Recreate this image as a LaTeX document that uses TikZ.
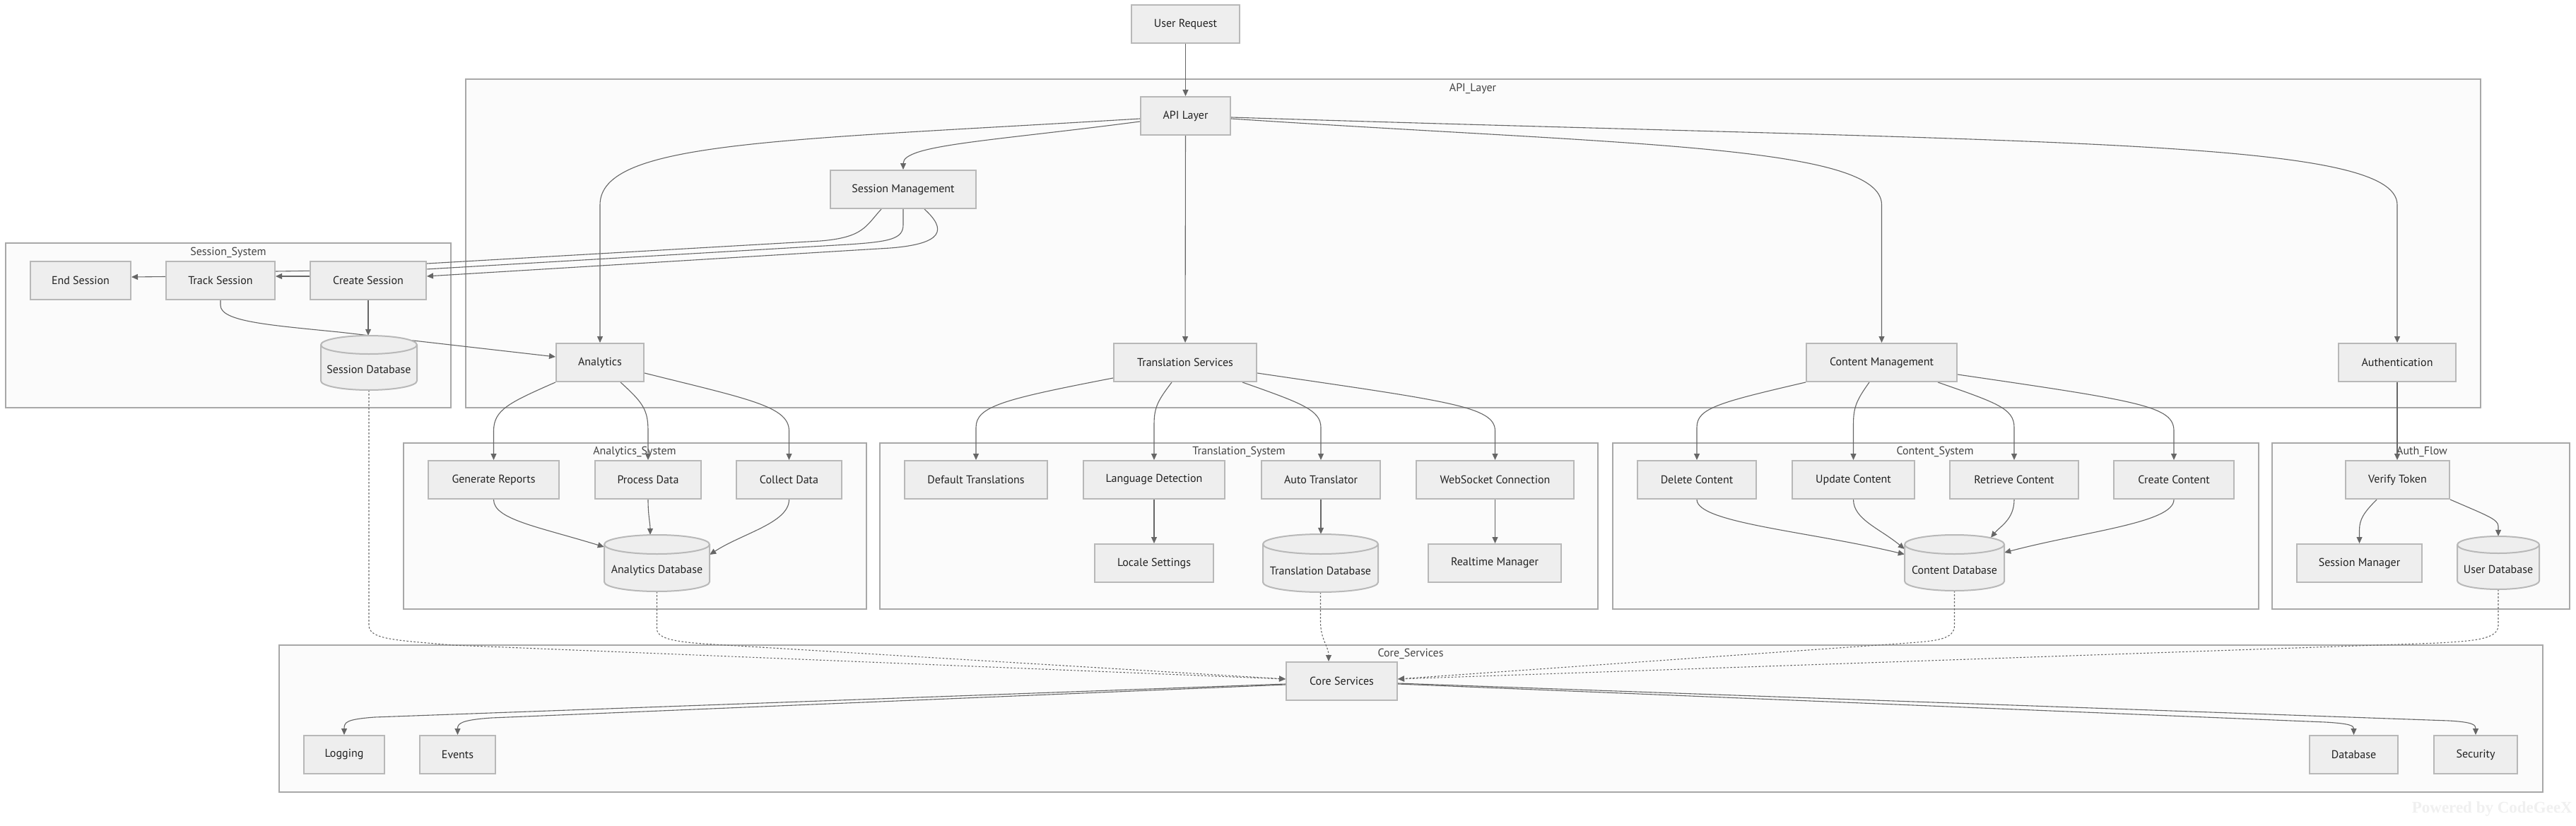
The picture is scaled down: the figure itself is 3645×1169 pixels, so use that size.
\documentclass[tikz,border=0pt]{standalone}
\usepackage{fontspec}
\setmainfont{PT Sans}
\newfontfamily\wmfont{Liberation Serif}
\usetikzlibrary{arrows.meta}
\definecolor{nodefill}{HTML}{EEEEEE}
\definecolor{nodeborder}{HTML}{B8B8B8}
\definecolor{clusterfill}{HTML}{FBFBFB}
\definecolor{clusterborder}{HTML}{A8A8A8}
\definecolor{edgecol}{HTML}{666666}
\definecolor{textcol}{HTML}{222222}
\definecolor{clustertext}{HTML}{444444}
\definecolor{wmark}{HTML}{F0F0F0}
\pgfdeclarelayer{bg}
\pgfdeclarelayer{edges}
\pgfsetlayers{bg,edges,main}
\tikzset{
  box/.style={draw=nodeborder, fill=nodefill, line width=2pt, text=textcol,
    font=\fontsize{16}{19}\selectfont, inner sep=0pt, minimum height=54pt},
  dbanchor/.style={inner sep=0pt},
  dbtext/.style={text=textcol, font=\fontsize{16}{19}\selectfont, inner sep=0pt},
  dbshape/.style={draw=nodeborder, fill=nodefill, line width=2pt},
  cluster/.style={draw=clusterborder, fill=clusterfill, line width=2pt},
  clabel/.style={text=clustertext, font=\fontsize{16}{19}\selectfont, inner sep=0pt},
  conn/.style={draw=edgecol, line width=1.1pt, -{Triangle[length=9pt,width=8pt]}},
  plainconn/.style={draw=edgecol, line width=1.1pt},
  dotconn/.style={conn, dash pattern=on 2.5pt off 2.5pt},
}
\newcommand\bx[5]{\node[box,minimum width=#4pt] (#1) at (#2,#3) {#5};}
\newcommand\dbnode[7]{%
  \pgfmathsetmacro\dbxm{(#2+#4)/2}%
  \pgfmathsetmacro\dbrx{(#4-#2)/2}%
  \pgfmathsetmacro\dbkx{0.5523*\dbrx}%
  \pgfmathsetmacro\dbky{0.5523*#6}%
  \pgfmathsetmacro\dbym{(#3+#5)/2}%
  \pgfmathsetmacro\dbw{#4-#2}%
  \pgfmathsetmacro\dbh{#5-#3}%
  \draw[dbshape] (#2,#3+#6) .. controls (#2,#3+#6-\dbky) and (\dbxm-\dbkx,#3) .. (\dbxm,#3)
     .. controls (\dbxm+\dbkx,#3) and (#4,#3+#6-\dbky) .. (#4,#3+#6)
     -- (#4,#5-#6) .. controls (#4,#5-#6+\dbky) and (\dbxm+\dbkx,#5) .. (\dbxm,#5)
     .. controls (\dbxm-\dbkx,#5) and (#2,#5-#6+\dbky) .. (#2,#5-#6) -- cycle;
  \draw[dbshape, fill=none] (#2,#3+#6) .. controls (#2,#3+#6+\dbky) and (\dbxm-\dbkx,#3+2*#6) .. (\dbxm,#3+2*#6)
     .. controls (\dbxm+\dbkx,#3+2*#6) and (#4,#3+#6+\dbky) .. (#4,#3+#6);
  \node[dbanchor, minimum width=\dbw pt, minimum height=\dbh pt] (#1) at (\dbxm,\dbym) {};
  \node[dbtext] (#1t) at (\dbxm,\dbym+0.75*#6) {#7};
}
\begin{document}
\begin{tikzpicture}[x=1pt,y=-1pt]
\useasboundingbox (0,0) rectangle (3645,1169);
\begin{pgfonlayer}{bg}
  \fill[white] (0,0) rectangle (3645,1169);
  \draw[cluster] (659,112) rectangle (3510,577);
  \node[clabel] (lblapi) at (2084,125) {API\_Layer};
  \draw[cluster] (7.5,344) rectangle (638,577);
  \node[clabel] (lblsess) at (323,357) {Session\_System};
  \draw[cluster] (571,627) rectangle (1226,862);
  \node[clabel] (lblana) at (898,639) {Analytics\_System};
  \draw[cluster] (1245,627) rectangle (2261,862);
  \node[clabel] (lbltrans) at (1753,639) {Translation\_System};
  \draw[cluster] (2282,627) rectangle (3196,862);
  \node[clabel] (lblcont) at (2738,639) {Content\_System};
  \draw[cluster] (3215,627) rectangle (3636,862);
  \node[clabel] (lblauth) at (3427,639) {Auth\_Flow};
  \draw[cluster] (395,913) rectangle (3598,1121);
  \node[clabel] (lblcore) at (1996,925) {Core\_Services};
  \node[font=\wmfont\bfseries\fontsize{23}{27}\selectfont, text=wmark, inner sep=0pt, anchor=east] (wm) at (3640,1145) {Powered by CodeGeeX};
\end{pgfonlayer}

% top level
\bx{userreq}{1677.5}{34.5}{153}{User Request}
\bx{api}{1677.5}{164}{127}{API Layer}
\bx{sessmgmt}{1278}{268}{206}{Session Management}
\bx{analytics}{849}{513}{124}{Analytics}
\bx{transsvc}{1677}{513}{202}{Translation Services}
\bx{contentmgmt}{2662.5}{513}{213}{Content Management}
\bx{auth}{3392}{513}{166}{Authentication}
% session system
\bx{endsess}{114}{396.5}{142}{End Session}
\bx{tracksess}{312}{396.5}{154}{Track Session}
\bx{createsess}{521}{396.5}{164}{Create Session}
\dbnode{sessdb}{454}{475}{590}{552}{13}{Session Database}
% analytics system
\bx{genrep}{698.5}{679}{185}{Generate Reports}
\bx{procdata}{917}{679}{150}{Process Data}
\bx{colldata}{1116.5}{679}{149}{Collect Data}
\dbnode{analyticsdb}{855}{757}{1004}{837}{13.5}{Analytics Database}
% translation system
\bx{deftrans}{1381}{679}{202}{Default Translations}
\bx{langdet}{1633}{679}{200}{Language Detection}
\bx{autotrans}{1869}{679}{168}{Auto Translator}
\bx{websocket}{2115.5}{679}{223}{WebSocket Connection}
\bx{locale}{1633}{797}{168}{Locale Settings}
\dbnode{transdb}{1787}{756}{1950}{838}{14}{Translation Database}
\bx{realtime}{2115}{797}{188}{Realtime Manager}
% content system
\bx{delcontent}{2401}{679}{168}{Delete Content}
\bx{updcontent}{2622.5}{679}{173}{Update Content}
\bx{retcontent}{2850}{679}{182}{Retrieve Content}
\bx{crecontent}{3076}{679}{170}{Create Content}
\dbnode{contentdb}{2695}{757}{2836}{836}{13.5}{Content Database}
% auth flow
\bx{verify}{3392.5}{679}{147}{Verify Token}
\bx{sessmgr}{3338.5}{797}{177}{Session Manager}
\dbnode{userdb}{3477}{759}{3593}{834}{12}{User Database}
% core services
\bx{core}{1898.5}{964}{157}{Core Services}
\bx{logging}{487}{1068}{114}{Logging}
\bx{events}{647.5}{1068}{107}{Events}
\bx{database}{3330.5}{1068}{125}{Database}
\bx{security}{3503}{1068}{118}{Security}

\begin{pgfonlayer}{edges}
  \draw[conn] (userreq) -- (api);
  \draw[conn] ([yshift=-8pt]api.west) .. controls (1400,200) and (1278,205) .. (sessmgmt.north);
  \draw[conn] ([yshift=-4pt]api.west) .. controls (1100,199) and (849,200) .. (849,290) -- (analytics.north);
  \draw[conn] (api) -- (transsvc);
  \draw[conn] ([yshift=-4pt]api.east) .. controls (2300,205) and (2662.5,205) .. (2662.5,290) -- (contentmgmt.north);
  \draw[conn] ([yshift=-2pt]api.east) .. controls (2900,203) and (3392,195) .. (3392,290) -- (auth.north);
  % session management fan
  \draw[plainconn] ([xshift=-31pt]sessmgmt.south) .. controls (1225,320) and (1222,336) .. (1161,341) -- ([yshift=23.5pt]createsess.east);
  \draw[plainconn] (sessmgmt.south) -- (1278,318) .. controls (1278,338) and (1260,342) .. (1200,346) -- (603,381) -- ([yshift=12.5pt]tracksess.east);
  \draw[conn] ([xshift=30pt]sessmgmt.south) .. controls (1340,325) and (1335,345) .. (1260,351) -- ([yshift=5.5pt]createsess.east);
  \draw[conn] ([yshift=5.5pt]createsess.west) -- ([yshift=5.5pt]tracksess.east);
  \draw[conn] ([yshift=5pt]tracksess.west) -- ([yshift=4.5pt]endsess.east);
  \draw[conn] (tracksess.south) -- (312,432) .. controls (312,455) and (380,460) .. (480,470) -- ([yshift=8pt]analytics.west);
  \draw[conn] (createsess.south) -- (createsess.south |- sessdb.north);
  % analytics
  \draw[conn] (analytics.south west) .. controls (720,570) and (698.5,580) .. (698.5,610) -- (genrep.north);
  \draw[conn] ([xshift=29pt]analytics.south) .. controls (910,570) and (917,580) .. (917,610) -- (procdata.north);
  \draw[conn] ([yshift=-15pt]analytics.east) .. controls (1060,565) and (1116.5,575) .. (1116.5,610) -- (colldata.north);
  \draw[conn] (genrep.south) .. controls (698.5,735) and (760,745) .. ([yshift=23pt]analyticsdb.west);
  \draw[conn] (procdata.south) .. controls (917,730) and (920,740) .. ([xshift=-9.5pt]analyticsdb.north);
  \draw[conn] (colldata.south) .. controls (1116.5,740) and (1050,755) .. ([yshift=12pt]analyticsdb.east);
  % translation
  \draw[conn] ([yshift=-22pt]transsvc.west) .. controls (1420,565) and (1381,575) .. (1381,605) -- (deftrans.north);
  \draw[conn] ([xshift=-19pt]transsvc.south) .. controls (1640,565) and (1633,575) .. (1633,600) -- (langdet.north);
  \draw[conn] ([xshift=81pt]transsvc.south) .. controls (1840,570) and (1869,580) .. (1869,605) -- (autotrans.north);
  \draw[conn] ([yshift=-15pt]transsvc.east) .. controls (2050,568) and (2115.5,575) .. (2115.5,610) -- (websocket.north);
  \draw[conn] (langdet) -- (locale);
  \draw[conn] (autotrans.south) -- (autotrans.south |- transdb.north);
  \draw[conn] (websocket.south) -- (websocket.south |- realtime.north);
  % content
  \draw[conn] (contentmgmt.south west) .. controls (2430,570) and (2401,578) .. (2401,605) -- (delcontent.north);
  \draw[conn] ([xshift=-17.5pt]contentmgmt.south) .. controls (2628,565) and (2622.5,575) .. (2622.5,600) -- (updcontent.north);
  \draw[conn] ([xshift=79.5pt]contentmgmt.south) .. controls (2825,570) and (2850,578) .. (2850,605) -- (retcontent.north);
  \draw[conn] ([yshift=-17pt]contentmgmt.east) .. controls (3030,568) and (3076,575) .. (3076,610) -- (crecontent.north);
  \draw[conn] (delcontent.south) .. controls (2401,740) and (2560,752) .. ([yshift=12pt]contentdb.west);
  \draw[conn] (updcontent.south) .. controls (2622.5,735) and (2660,748) .. ([yshift=19.5pt]contentdb.west);
  \draw[conn] (retcontent.south) .. controls (2850,735) and (2830,745) .. ([xshift=51.5pt,yshift=-4pt]contentdb.north);
  \draw[conn] (crecontent.south) .. controls (3076,740) and (2950,752) .. ([yshift=14.5pt]contentdb.east);
  % auth
  \draw[conn] (auth.south) -- (auth.south |- verify.north);
  \draw[conn] ([xshift=-29.5pt]verify.south) .. controls (3345,725) and (3338.5,735) .. (3338.5,750) -- (sessmgr.north);
  \draw[conn] (verify.south east) .. controls (3520,730) and (3535,735) .. (3535,745) -- (userdb.north);
  % dotted into core
  \draw[dotconn] (sessdb.south) -- (522,885) .. controls (522,905) and (560,906) .. (640,913) -- ([yshift=3pt]core.west);
  \draw[dotconn] (analyticsdb.south) -- (929.5,890) .. controls (929.5,905) and (960,909) .. (1010,912) -- ([yshift=3pt]core.west);
  \draw[dotconn] (transdb.south) -- (1868.5,880) .. controls (1868.5,905) and (1880,915) .. ([xshift=-18.5pt]core.north);
  \draw[dotconn] (contentdb.south) -- (2765.5,885) .. controls (2765.5,905) and (2740,907) .. (2700,910) -- ([yshift=3pt]core.east);
  \draw[dotconn] (userdb.south) -- (3535,885) .. controls (3535,905) and (3500,907) .. (3450,910) -- ([yshift=3pt]core.east);
  % core out
  \draw[conn] ([yshift=-4pt]core.west) -- (530,1015) .. controls (490,1018) and (487,1022) .. (logging.north);
  \draw[conn] ([yshift=-5pt]core.west) -- (695,1016) .. controls (652,1019) and (647.5,1024) .. (events.north);
  \draw[conn] ([yshift=-4pt]core.east) -- (3290,1022) .. controls (3325,1024) and (3330.5,1027) .. (database.north);
  \draw[conn] ([yshift=-3pt]core.east) -- (3465,1020) .. controls (3500,1022) and (3503,1026) .. (security.north);
\end{pgfonlayer}
\end{tikzpicture}
\end{document}
